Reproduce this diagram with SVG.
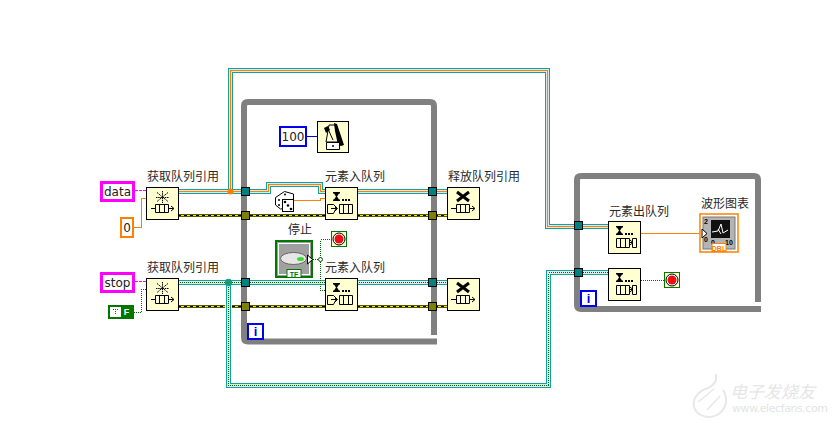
<svg xmlns="http://www.w3.org/2000/svg" width="837" height="426" viewBox="0 0 837 426">
<style>
.lb{font-size:12px;font-family:"Noto Sans CJK SC",sans-serif;fill:#2a2a2a}
.ct{font-size:12px;font-family:"DejaVu Sans",sans-serif;fill:#222;text-anchor:middle}
.loop{fill:none;stroke:#808080;stroke-width:6;stroke-linejoin:round}
.n{fill:#ffffd2;stroke:#000;stroke-width:1}
.t1{fill:#008080;stroke:#000;stroke-width:1}
.t2{fill:#808000;stroke:#000;stroke-width:1}
.ink{fill:none;stroke:#000;stroke-width:1}
.w{fill:none;shape-rendering:crispEdges}
.wt{stroke:#12a0a0;stroke-width:5}
.ww{stroke:#dfe8e4;stroke-width:3}
.wl{stroke:#e4ece6;stroke-width:3}
.wo{stroke:#ff8000;stroke-width:1}
.wd{stroke:#006600;stroke-width:1;stroke-dasharray:1 1}
.we{stroke:#5a5a00;stroke-width:3}
.ey{stroke:#f0f000;stroke-width:1}
.ek{stroke:#000;stroke-width:1;stroke-dasharray:3 3}
.i{font-family:"Liberation Sans",sans-serif;font-size:13px;font-weight:bold;fill:#0000ee;text-anchor:middle}
.wm{fill:none;stroke:#e8e8e8}
.tiny{font-family:"Liberation Sans",sans-serif;font-size:7px;font-weight:bold;fill:#000}
</style>
<defs>
<g id="create"><rect class="n" x="0.500" y="0.500" width="32" height="32"/><path d="M16.500 4v12M11 5.500l11 9M22 5.500l-11 9M10 10.500h13" stroke="#000" stroke-width="1" stroke-dasharray="1.500 .7"/><path class="ink" d="M5 21.500h4M9.500 17.500h13v8h-13zM13.500 17.500v8M18.500 17.500v8M22.500 21.500h5M25 19l3 2.500-3 2.500"/></g>
<g id="release"><rect class="n" x="0.500" y="0.500" width="32" height="32"/><path d="M10 5l12 9M22 5l-12 9" stroke="#000" stroke-width="3"/><path class="ink" d="M4 21.500h5M9.500 17.500h13v8h-13zM13.500 17.500v8M18.500 17.500v8M22.500 21.500h5M25 19l3 2.500-3 2.500"/></g>
<g id="hg"><path d="M8 5h7v1.500h-1l-2 3 2 3h1V14H8v-1.500h1l2-3-2-3H8z"/><rect x="17" y="12" width="2" height="2"/><rect x="20" y="12" width="2" height="2"/><rect x="23" y="12" width="2" height="2"/></g>
<g id="enq"><rect class="n" x="0.500" y="0.500" width="32" height="32"/><use href="#hg"/><path class="ink" d="M2.500 17.500h6l2 2v3l-2 4h-6zM6 21.500h6M10 19l2.500 2.500L10 24M14.500 17.500h13v9h-13zM18.500 17.500v9M23.500 17.500v9"/></g>
<g id="deq"><rect class="n" x="0.500" y="0.500" width="32" height="32"/><use href="#hg"/><path class="ink" d="M8.500 17.500h13v9h-13zM12.500 17.500v9M17.500 17.500v9M21.500 21.500h3M22 19l3 2.500-3 2.500M24.500 17.500h4v9h-4z"/></g>
<g id="stopT"><rect x="0.500" y="0.500" width="15" height="15" fill="#ffffd2" stroke="#007700"/><circle cx="8" cy="8" r="6" fill="#fff" stroke="#000"/><circle cx="8" cy="8" r="4.500" fill="#ee1010"/></g>
</defs>

<g id="connectors">
<path class="w" stroke="#ff00ff" stroke-dasharray="3 1" d="M135 190.500h11M135 281.500h11"/>
<path class="w wo" d="M133 227.500h8.500v-29h4.500"/>
<path class="w wd" d="M134 312.500h7.500v-23h4.500"/>
<path class="w" stroke="#0000dd" d="M307 136.500h10"/>

<g id="wire-data">
<path class="w wt" d="M178 191.500H268.500V184.500H320.500V191.500H325M357 191.500H447M230.500 191.500V70.500H547.500V226.500H608"/>
<path class="w ww" d="M178 191.500H268.500V184.500H320.500V191.500H325M357 191.500H447M230.500 191.500V70.500H547.500V226.500H608"/>
<path class="w wo" d="M178 191.500H268.500V184.500H320.500V191.500H325M357 191.500H447M230.500 191.500V70.500H547.500V226.500H608"/>
<circle cx="230.500" cy="191.500" r="3" fill="#ff8000"/>
</g>
<g id="wire-error">
<path class="w we" d="M178 215.500H325M357 215.500H447M178 306.500H325M357 306.500H447"/>
<path class="w ey" d="M178 215.500H325M357 215.500H447M178 306.500H325M357 306.500H447"/>
<path class="w ek" d="M178 215.500H325M357 215.500H447M178 306.500H325M357 306.500H447"/>
<rect x="225" y="304" width="7" height="6" fill="#fff"/>
</g>
<g id="wire-stop">
<path class="w wt" d="M178 282.500H325M357 282.500H447M228.500 282.500V385.500H548.500V272.500H608"/>
<path class="w wl" d="M178 282.500H325M357 282.500H447M228.500 282.500V385.500H548.500V272.500H608"/>
<path class="w wd" d="M178 282.500H325M357 282.500H447M228.500 282.500V385.500H548.500V272.500H608"/>
<circle cx="228.500" cy="282.500" r="3" fill="#1f9a5a" stroke="#12a0a0" stroke-width="1.300"/>
</g>
<path class="w wo" d="M294 200.500h26.500v-2h4.500"/>
<path class="w wd" d="M313 259.500h7.500M320.500 259.500V239.500H331M320.500 259.500V290.500H325"/>
<circle cx="320.500" cy="259.500" r="2" fill="#fff" stroke="#006600"/>
<path class="w wo" d="M640 233.500h60"/>
<path class="w wd" d="M641 280.500h23"/>
</g>

<g id="loop1"><path class="loop" d="M244 106q0-4 4-4H430q4 0 4 4V335M437 341.500H248q-4 0-4-4V106"/>
<rect x="248" y="324" width="15" height="15" fill="#fff" stroke="#0000ee" stroke-width="2"/><text class="i" x="255.500" y="336">i</text></g>
<g id="loop2"><path class="loop" d="M577 180q0-4 4-4H754q4 0 4 4V302M761 309H581q-4 0-4-4V180"/>
<rect x="581" y="291" width="15" height="15" fill="#fff" stroke="#0000ee" stroke-width="2"/><text class="i" x="588.500" y="303">i</text></g>

<g id="tunnels">
<rect class="t1" x="241.500" y="187.500" width="8" height="8"/><rect class="t2" x="241.500" y="211.500" width="8" height="8"/>
<rect class="t1" x="241.500" y="278.500" width="8" height="8"/><rect class="t2" x="241.500" y="302.500" width="8" height="8"/>
<rect class="t1" x="428.500" y="187.500" width="8" height="8"/><rect class="t2" x="428.500" y="211.500" width="8" height="8"/>
<rect class="t1" x="428.500" y="278.500" width="8" height="8"/><rect class="t2" x="428.500" y="302.500" width="8" height="8"/>
<rect class="t1" x="574.500" y="221.500" width="8" height="8"/><rect class="t1" x="574.500" y="268.500" width="8" height="8"/>
</g>

<g id="data-const"><rect x="101.500" y="182.500" width="32" height="18" fill="#fff" stroke="#ff00ff" stroke-width="3"/><text class="ct" x="117.500" y="196">data</text></g>
<g id="stop-const"><rect x="101.500" y="273.500" width="32" height="18" fill="#fff" stroke="#ff00ff" stroke-width="3"/><text class="ct" x="117.500" y="287">stop</text></g>
<g id="zero-const"><rect x="121" y="218" width="12" height="19" fill="#fff" stroke="#ff8000" stroke-width="2"/><text class="ct" x="127" y="232">0</text></g>
<g id="false-const"><rect x="109" y="306" width="24" height="12" fill="#fff" stroke="#007700" stroke-width="2"/><path d="M113 309.500h5M115.500 309v6" stroke="#007700" stroke-dasharray="1 1"/><rect x="121" y="307" width="11" height="10" fill="#007700"/><text x="126.500" y="315" text-anchor="middle" style="font-family:'Liberation Sans',sans-serif;font-size:9px;font-weight:bold;fill:#fff">F</text></g>

<g id="create1"><use href="#create" x="146" y="187"/><text class="lb" x="147" y="181">获取队列引用</text></g>
<g id="create2"><use href="#create" x="146" y="278"/><text class="lb" x="147" y="272">获取队列引用</text></g>
<g id="ms-const"><rect x="280" y="127" width="26" height="19" fill="#fff" stroke="#0000ee" stroke-width="2"/><text class="ct" x="293" y="141">100</text></g>
<g id="wait"><rect class="n" x="317.500" y="121.500" width="31" height="31"/><path d="M329 125h6l4 17h-13z" fill="#ffffd2" stroke="#000"/><path d="M334 123l3 1 7 21-3 1-3-1-3-14z"/><path d="M326.500 142.500h13v7h-13z" fill="#fff" stroke="#000"/><circle cx="333" cy="146" r="1"/><path d="M333 140l-5-11" stroke="#000"/><path d="M324 128l4-2 2 4-4 3z"/></g>
<g id="dice"><path d="M275.500 197.500l9-6 9 2.500v6h-6v8l-7 1-5-4z" fill="#fff" stroke="#000"/><rect x="282.500" y="199.500" width="11" height="12" fill="#fff" stroke="#000"/><circle cx="285" cy="202" r="1.300"/><circle cx="288" cy="205.500" r="1.300"/><circle cx="291" cy="209" r="1.300"/><circle cx="279" cy="200" r="1"/><circle cx="279" cy="205" r="1"/><circle cx="285" cy="194.500" r="1"/></g>
<g id="enq1"><use href="#enq" x="325" y="187"/><text class="lb" x="325" y="181">元素入队列</text></g>
<g id="enq2"><use href="#enq" x="325" y="278"/><text class="lb" x="325" y="272">元素入队列</text></g>
<g id="rel1"><use href="#release" x="447" y="187"/><text class="lb" x="448" y="181">释放队列引用</text></g>
<g id="rel2"><use href="#release" x="447" y="278"/></g>
<g id="stop-button"><text class="lb" x="288" y="234">停止</text><rect x="276" y="241" width="36" height="36" fill="#a0a0a0" stroke="#007700" stroke-width="2"/><rect x="278.500" y="243.500" width="31" height="31" fill="none" stroke="#fff"/><ellipse cx="293.500" cy="258.500" rx="13" ry="6" fill="#e6e6e6" stroke="#666"/><ellipse cx="300.500" cy="259" rx="3.500" ry="2" fill="#33dd33"/><path d="M307.500 255l5 4.500-5 4.500z" fill="#fff" stroke="#000"/><rect x="287" y="269.500" width="14" height="8" fill="#fff" stroke="#007700"/><text x="294" y="276.500" text-anchor="middle" style="font-family:'Liberation Sans',sans-serif;font-size:7px;font-weight:bold;fill:#007700">TF</text></g>
<g id="stop-ind1"><use href="#stopT" x="331" y="231"/></g>
<g id="deq1"><use href="#deq" x="608" y="221"/><text class="lb" x="609" y="216">元素出队列</text></g>
<g id="deq2"><use href="#deq" x="608" y="268"/></g>
<g id="stop-ind2"><use href="#stopT" x="664" y="272"/></g>
<g id="chart"><text class="lb" x="701" y="208">波形图表</text><rect x="700" y="214" width="38" height="38" fill="#fff" stroke="#ff8000" stroke-width="1.500"/><rect x="703" y="217" width="32" height="32" fill="#b4b4b4" stroke="#777"/><rect x="711" y="220" width="19" height="18" fill="#111"/><path d="M712 232l6-1 3-7 2 9 5-3M718 229l3 5" fill="none" stroke="#fff"/><text class="tiny" x="704" y="224">2</text><text class="tiny" x="704" y="242">0</text><text class="tiny" x="711" y="245">0</text><text class="tiny" x="725" y="245">10</text><path d="M702 229l5 4.500-5 4.500z" fill="#fff" stroke="#000"/><rect x="712" y="243.500" width="14" height="8" fill="#fff" stroke="#ff8000"/><text x="719" y="250.500" text-anchor="middle" style="font-family:'Liberation Sans',sans-serif;font-size:7px;font-weight:bold;fill:#ff8000">DBL</text></g>

<g id="watermark"><path class="wm" stroke-width="2" d="M716 374c1 8-2 11-8 14-10 3-16 11-14 19 3 10 17 13 26 6 8-7 7-17 3-23"/><path class="wm" stroke-width="1.500" d="M698 402l16-13M707 410l13-14"/><text x="730" y="398" style="font-size:17px;font-style:italic;fill:#e6e6e6;font-family:'Noto Sans CJK SC',sans-serif">电子发烧友</text><text x="732" y="412" style="font-size:11px;fill:#e4e4e4;font-family:'DejaVu Sans',sans-serif" textLength="96">www.elecfans.com</text></g>
</svg>
